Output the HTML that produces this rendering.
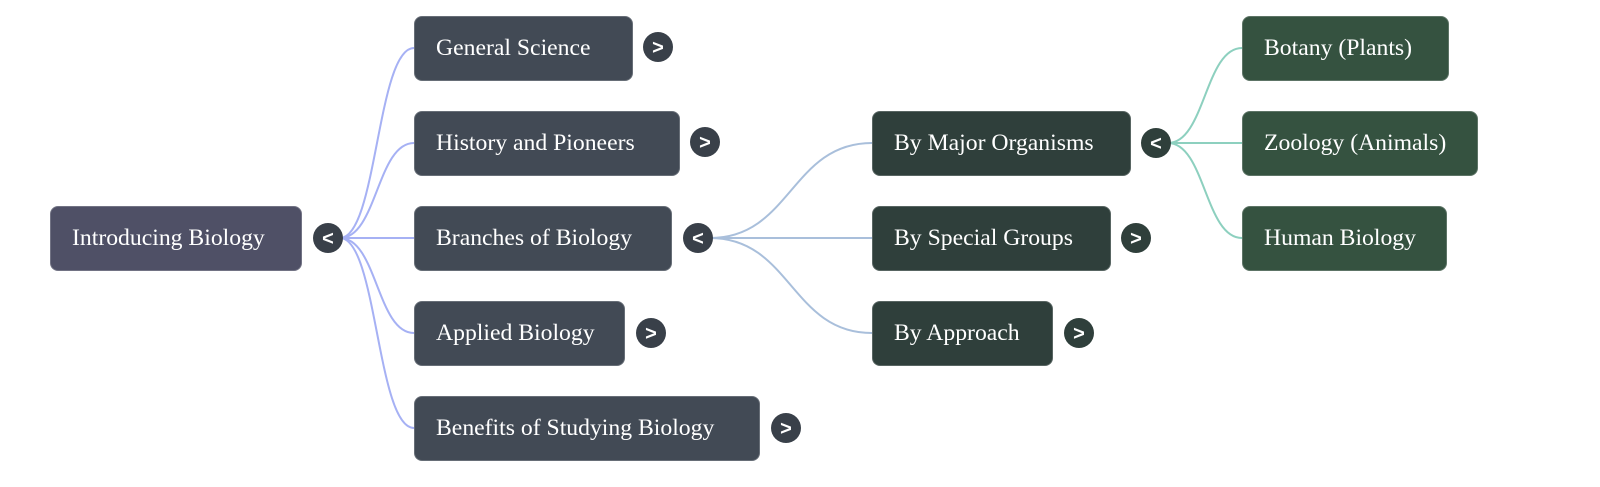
<!DOCTYPE html>
<html><head><style>
body{margin:0;width:1600px;height:487px;background:#fff;position:relative;overflow:hidden;font-family:"Liberation Serif",serif}
.b{position:absolute;height:65px;border-radius:8px;color:#fff;font-size:23.7px;line-height:63px;padding-left:21px;box-sizing:border-box;border:1px solid rgba(255,255,255,.2)}
.c{position:absolute;width:30px;height:30px;border-radius:50%;background:#394049;color:#fff;font-family:"Liberation Sans",sans-serif;font-size:20px;font-weight:bold;line-height:30px;text-align:center}
.c span{position:relative;top:1px}
svg{position:absolute;left:0;top:0}
</style></head><body>
<svg width="1600" height="487" fill="none" stroke-width="2">
<g stroke="#a6b1f4">
<path d="M340 238 C377 238 377 48 414 48"/>
<path d="M340 238 C377 238 377 143 414 143"/>
<path d="M340 238 L414 238"/>
<path d="M340 238 C377 238 377 333 414 333"/>
<path d="M340 238 C377 238 377 428 414 428"/>
</g>
<g stroke="#a9bfdb">
<path d="M710 238 C791 238 791 143 872 143"/>
<path d="M710 238 L872 238"/>
<path d="M710 238 C791 238 791 333 872 333"/>
</g>
<g stroke="#8dd0bf">
<path d="M1168 143 C1205 143 1205 48 1242 48"/>
<path d="M1168 143 L1242 143"/>
<path d="M1168 143 C1205 143 1205 238 1242 238"/>
</g>
</svg>
<div class="b" style="left:50px;top:206px;width:252px;background:#4f5066">Introducing Biology</div>
<div class="c" style="left:313px;top:223px"><span>&lt;</span></div>
<div class="b" style="left:414px;top:16px;width:219px;background:#424a55">General Science</div>
<div class="c" style="left:643px;top:32px"><span>&gt;</span></div>
<div class="b" style="left:414px;top:111px;width:266px;background:#424a55">History and Pioneers</div>
<div class="c" style="left:690px;top:127px"><span>&gt;</span></div>
<div class="b" style="left:414px;top:206px;width:258px;background:#424a55">Branches of Biology</div>
<div class="c" style="left:683px;top:223px"><span>&lt;</span></div>
<div class="b" style="left:414px;top:301px;width:211px;background:#424a55">Applied Biology</div>
<div class="c" style="left:636px;top:318px"><span>&gt;</span></div>
<div class="b" style="left:414px;top:396px;width:346px;background:#424a55">Benefits of Studying Biology</div>
<div class="c" style="left:771px;top:413px"><span>&gt;</span></div>
<div class="b" style="left:872px;top:111px;width:259px;background:#2f3f3b">By Major Organisms</div>
<div class="c" style="left:1141px;top:128px;background:#2f3f3b"><span>&lt;</span></div>
<div class="b" style="left:872px;top:206px;width:239px;background:#2f3f3b">By Special Groups</div>
<div class="c" style="left:1121px;top:223px;background:#2f3f3b"><span>&gt;</span></div>
<div class="b" style="left:872px;top:301px;width:181px;background:#2f3f3b">By Approach</div>
<div class="c" style="left:1064px;top:318px;background:#2f3f3b"><span>&gt;</span></div>
<div class="b" style="left:1242px;top:16px;width:207px;background:#355240">Botany (Plants)</div>
<div class="b" style="left:1242px;top:111px;width:236px;background:#355240">Zoology (Animals)</div>
<div class="b" style="left:1242px;top:206px;width:205px;background:#355240">Human Biology</div>
</body></html>
